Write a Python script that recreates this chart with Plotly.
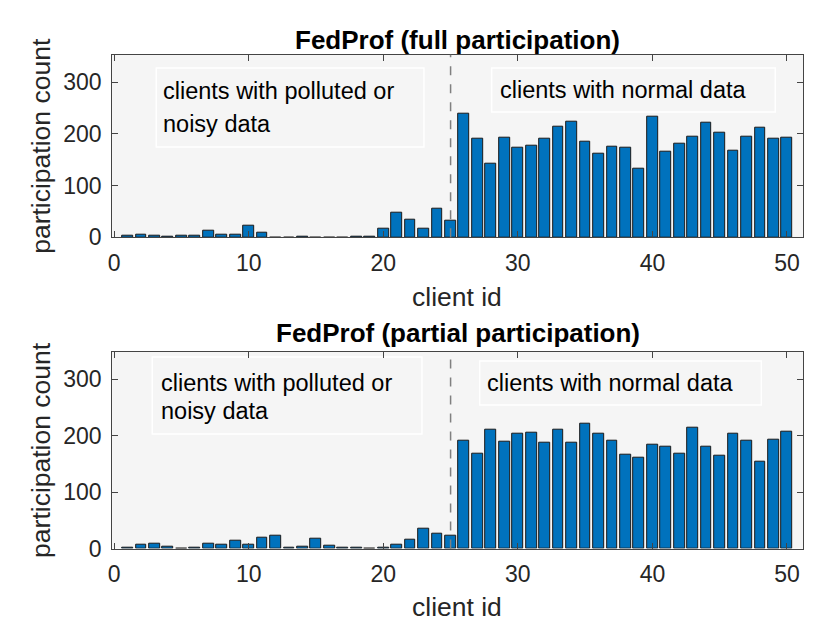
import plotly.graph_objects as go

clients = list(range(1, 51))
full_counts = [3, 6, 3, 1, 3, 4, 12, 6, 6, 22, 8, 0, 0, 1, 0, 0, 0, 1, 2, 16,
               48, 35, 16, 55, 32, 238, 191, 143, 193, 174, 178, 190, 213, 224, 185,
               161, 175, 174, 133, 233, 166, 181, 195, 222, 203, 168, 195, 212, 190, 193]
partial_counts = [2, 6, 9, 3, 0, 2, 8, 6, 14, 6, 19, 23, 1, 3, 18, 5, 2, 2, 0, 1,
                  7, 15, 36, 26, 22, 192, 168, 210, 189, 204, 205, 188, 210, 187, 222,
                  203, 191, 167, 161, 184, 181, 168, 214, 181, 165, 203, 191, 154, 193, 207]
x_ticks = [0, 10, 20, 30, 40, 50]
y_ticks = [0, 100, 200, 300]
titles = ["FedProf (full participation)", "FedProf (partial participation)"]
split_client = 25

W, H = 830, 623
FIG_H = 636
FONT = "Liberation Sans"
def px(x):
    return x / W
def py(y):
    return 1 - y / H

fig = go.Figure()
for i, vals in enumerate([full_counts, partial_counts]):
    fig.add_trace(go.Bar(
        x=clients, y=vals, width=0.8,
        marker=dict(color="#0072BD", line=dict(color="#1a1a1a", width=1)),
        xaxis="x" if i == 0 else "x2", yaxis="y" if i == 0 else "y2",
        showlegend=False))

axis_common = dict(
    showline=True, mirror="ticks", linecolor="#444444", linewidth=1,
    ticks="inside", ticklen=6, tickcolor="#444444", showgrid=False, zeroline=False,
    tickfont=dict(family=FONT, size=23, color="#262626"), ticklabelstandoff=5,
)
xrange = [-0.15, 51.2]
fig.update_layout(
    width=W, height=FIG_H, margin=dict(l=0, r=0, t=0, b=0),
    paper_bgcolor="white", plot_bgcolor="#f5f5f5",
    bargap=0,
    xaxis=dict(domain=[px(108.7), px(803)], range=xrange, tickvals=x_ticks, anchor="y", **axis_common),
    yaxis=dict(domain=[py(237.3), py(54.7)], range=[0, 353], tickvals=y_ticks, anchor="x", **axis_common),
    xaxis2=dict(domain=[px(108.7), px(803)], range=xrange, tickvals=x_ticks, anchor="y2", **axis_common),
    yaxis2=dict(domain=[py(548.5), py(351.7)], range=[0, 349], tickvals=y_ticks, anchor="x2", **axis_common),
)

annotations = []
shapes = []
for title, ty, xt_y, dom in [(titles[0], 40, 297, (54.7, 237.3)), (titles[1], 333, 607, (351.7, 548.5))]:
    annotations.append(dict(text="<b>%s</b>" % title, x=px(456), y=py(ty), xref="paper", yref="paper",
                            xanchor="center", yanchor="middle", showarrow=False,
                            font=dict(family=FONT, size=26, color="black")))
    annotations.append(dict(text="client id", x=px(455), y=py(xt_y), xref="paper", yref="paper",
                            xanchor="center", yanchor="middle", showarrow=False,
                            font=dict(family=FONT, size=26.5, color="#262626")))
    annotations.append(dict(text="participation count", x=px(37), y=py((dom[0] + dom[1]) / 2),
                            xref="paper", yref="paper", textangle=-90,
                            xanchor="center", yanchor="middle", showarrow=False,
                            font=dict(family=FONT, size=26.5, color="#262626")))

boxes = [(153, 68, 422, 147), (490, 68, 775, 112), (149, 357, 420, 434), (478, 361, 761, 405)]
for (x0, y0, x1, y1) in boxes:
    shapes.append(dict(type="rect", xref="paper", yref="paper", x0=px(x0), x1=px(x1), y0=py(y1), y1=py(y0),
                       line=dict(color="white", width=1.5), fillcolor="rgba(0,0,0,0)", layer="below"))
texts = [("clients with polluted or", 158, 91), ("noisy data", 158, 124),
         ("clients with normal data", 496, 90),
         ("clients with polluted or", 156, 383), ("noisy data", 156, 411),
         ("clients with normal data", 483, 383)]
for t, tx, ty in texts:
    annotations.append(dict(text=t, x=px(tx), y=py(ty), xref="paper", yref="paper",
                            xanchor="left", yanchor="middle", showarrow=False,
                            font=dict(family=FONT, size=23.5, color="black")))

for xr, yr in [("x", "y domain"), ("x2", "y2 domain")]:
    shapes.append(dict(type="line", xref=xr, yref=yr, x0=split_client, x1=split_client, y0=0, y1=1,
                       line=dict(color="#808080", width=1.5, dash="dash")))

fig.update_layout(annotations=annotations, shapes=shapes)
post = (
    "document.documentElement.style.margin='0';"
    "document.body.style.margin='0';document.body.style.padding='0';"
    "document.body.style.overflow='hidden';"
)
fig.write_html("out.html", config={"displayModeBar": False}, post_script=post)
